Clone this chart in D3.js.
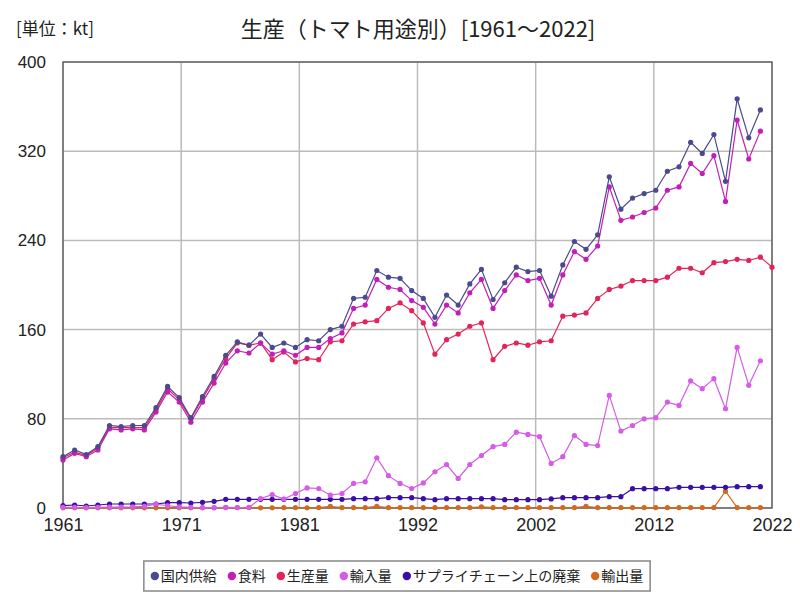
<!DOCTYPE html>
<html>
<head>
<meta charset="utf-8">
<script src="https://cdn.jsdelivr.net/npm/d3@7"></script>
<style>
  body { margin: 0; background: #fff; }
  text { font-family: "Noto Sans CJK JP", "Noto Sans", sans-serif; fill: #222; }
  .tick text { font-family: "Liberation Sans Narrow", "Liberation Sans", sans-serif; }
</style>
</head>
<body>
<script>
/*data (kt)*/
var years = d3.range(1961, 2023);
var seriesNames = ["国内供給", "食料", "生産量", "輸入量", "サプライチェーン上の廃棄", "輸出量"];
var seriesColors = ["#4b4a8c", "#c21fb8", "#e2245a", "#d65be6", "#3a0fa3", "#d2691e"];

var domesticSupply = [46,52,48,55,74,73,74,74,90,109,
  99,81,100,118,137,149,146,156,144,148,
  144,151,150,160,163,188,189,213,207,206,
  195,188,171,191,182,201,214,187,202,216,
  212,213,190,218,239,232,245,297,268,278,
  282,285,302,306,328,318,335,293,367,332,
  357,null];
var food = [43,49,46,52,71,70,71,70,86,104,
  95,77,95,112,130,141,139,148,138,141,
  137,144,144,152,157,179,182,205,198,196,
  186,180,165,182,175,193,205,179,195,209,
  204,206,182,209,230,223,235,288,258,261,
  265,269,285,288,309,300,316,275,348,313,
  338,null];
var production = [45,50,47,54,72,72,72,72,88,107,
  97,80,98,116,134,148,146,148,133,140,
  131,134,133,149,150,165,167,168,179,184,
  177,166,138,151,156,163,166,133,145,148,
  146,149,150,172,173,175,188,196,199,204,
  204,204,207,215,215,211,220,221,223,222,
  225,216];
var imports = [0.5,0.5,0.3,0.5,0.8,0.8,1,1.5,3.5,2,
  1,0.5,0.3,0.3,0.3,0.3,0.5,8.5,12,8,
  13,18,17.5,11.5,13,22,23.5,45,29,22,
  17.5,22.5,32.5,39,26.5,39,47,55,57,68,
  66,64,40,46,65,57,56,101,69,74,
  80,81,95,92,114,107,116,89,144,110,
  132,null];
var supplyChainWaste = [2.1,2.7,1.8,2.7,3.6,3.6,3.6,3.6,3.6,4.8,
  4.8,4.5,5.1,6,7.8,7.8,7.8,7.8,7.8,7.8,
  7.8,7.8,7.8,7.8,7.8,8.4,8.4,8.4,9.3,9.3,
  9.3,8.4,7.5,8.4,8.4,8.4,8.4,8.4,7.5,7.5,
  7.5,7.5,8.1,9.3,9.3,9.3,9.3,10.2,10.2,17.3,
  17.3,17.3,17.3,18.5,18.5,18.5,18.5,18.5,19.1,19.1,
  19.1,null];
var exportsQty = [0.2,0.2,0.2,0.2,0.2,0.2,0.2,0.2,0.2,0.2,
  0.2,0.2,0.2,0.2,0.5,0.3,0.3,0.2,0.2,0.3,
  0.3,0.2,0.3,1.5,0.3,0.3,0.3,1.5,0.3,0.3,
  0.3,0.3,0.3,0.3,0.3,0.3,1,0.3,0.3,0.3,
  0.3,0.3,0.3,0.3,0.3,1.5,0.3,0.3,0.3,0.3,
  0.3,0.3,0.3,0.3,0.3,0.3,0.3,15,0.3,0.3,
  0.3,null];
var seriesValues = [domesticSupply, food, production, imports, supplyChainWaste, exportsQty];

var yTicks = [0, 80, 160, 240, 320, 400];
var xTickLabels = ["1961", "1971", "1981", "1992", "2002", "2012", "2022"];

/*chart size*/
var svgWidth = 800, svgHeight = 600;
var margin = {top: 62, right: 28, bottom: 92, left: 63};
var width = svgWidth - margin.left - margin.right;
var height = svgHeight - margin.top - margin.bottom;

var svg = d3.select("body").append("svg")
  .attr("width", svgWidth)
  .attr("height", svgHeight);

/*title and unit*/
svg.append("text")
  .attr("x", 418).attr("y", 37)
  .attr("text-anchor", "middle")
  .style("font-size", "22px")
  .text("生産（トマト用途別）[1961～2022]");

svg.append("text")
  .attr("x", 16).attr("y", 35)
  .style("font-size", "17px")
  .text("[単位：kt]");

var chartGroup = svg.append("g")
  .attr("transform", `translate(${margin.left}, ${margin.top})`);

/*scales*/
var xScale = d3.scaleLinear().domain([1961, 2022]).range([0, width]);
var yScale = d3.scaleLinear().domain([0, 400]).range([height, 0]);

/*x ticks are evenly spaced over the span, labels rounded to years*/
var xTickValues = xTickLabels.map((d, i) => 1961 + i * (2022 - 1961) / (xTickLabels.length - 1));

/*grid*/
chartGroup.append("g")
  .selectAll("line.hgrid")
  .data(yTicks)
  .enter().append("line")
  .attr("x1", 0).attr("x2", width)
  .attr("y1", d => yScale(d)).attr("y2", d => yScale(d))
  .attr("stroke", "#bbb").attr("stroke-width", 1.5);

chartGroup.append("g")
  .selectAll("line.vgrid")
  .data(xTickValues)
  .enter().append("line")
  .attr("x1", d => xScale(d)).attr("x2", d => xScale(d))
  .attr("y1", 0).attr("y2", height)
  .attr("stroke", "#bbb").attr("stroke-width", 1.5);

/*axes*/
var bottomAxis = d3.axisBottom(xScale)
  .tickValues(xTickValues)
  .tickFormat((d, i) => xTickLabels[i])
  .tickSize(0).tickPadding(10);
chartGroup.append("g")
  .attr("transform", `translate(0, ${height})`)
  .call(bottomAxis)
  .call(g => g.select(".domain").remove())
  .selectAll("text").style("font-size", "18px").attr("fill", "#222");

var leftAxis = d3.axisLeft(yScale)
  .tickValues(yTicks)
  .tickSize(0).tickPadding(17);
chartGroup.append("g")
  .call(leftAxis)
  .call(g => g.select(".domain").remove())
  .selectAll("text").style("font-size", "17px").attr("fill", "#222");

/*plot frame*/
chartGroup.append("rect")
  .attr("width", width).attr("height", height)
  .attr("fill", "none")
  .attr("stroke", "#666").attr("stroke-width", 1.5);

/*lines and dots, last series drawn first*/
var line = d3.line()
  .defined(d => d.v != null)
  .x(d => xScale(d.year))
  .y(d => yScale(d.v));

d3.range(seriesNames.length).reverse().forEach(function (s) {
  var pts = years.map((y, i) => ({year: y, v: seriesValues[s][i]}));
  var g = chartGroup.append("g");
  g.append("path")
    .datum(pts)
    .attr("d", line)
    .attr("fill", "none")
    .attr("stroke", seriesColors[s])
    .attr("stroke-width", 1.2);
  g.selectAll("circle")
    .data(pts.filter(d => d.v != null))
    .enter().append("circle")
    .attr("cx", d => xScale(d.year))
    .attr("cy", d => yScale(d.v))
    .attr("r", 2.6)
    .attr("fill", seriesColors[s]);
});

/*legend*/
var legend = svg.append("g");
var legendBox = legend.append("rect")
  .attr("fill", "#fff")
  .attr("stroke", "#888").attr("stroke-width", 1.5);
var lx = 0;
var items = seriesNames.map(function (name, i) {
  var item = legend.append("g");
  item.append("circle").attr("cx", 4).attr("cy", -5).attr("r", 4.2).attr("fill", seriesColors[i]);
  var t = item.append("text").attr("x", 10).attr("y", 0).style("font-size", "14px").text(name);
  var w = 10 + t.node().getComputedTextLength();
  var res = {item: item, x: lx};
  lx += w + 11;
  return res;
});
var legendWidth = lx - 11;
var legendStart = 397 - legendWidth / 2;
items.forEach(d => d.item.attr("transform", `translate(${legendStart + d.x}, 581)`));
legendBox
  .attr("x", legendStart - 7).attr("y", 561)
  .attr("width", legendWidth + 14).attr("height", 30);
</script>
</body>
</html>
